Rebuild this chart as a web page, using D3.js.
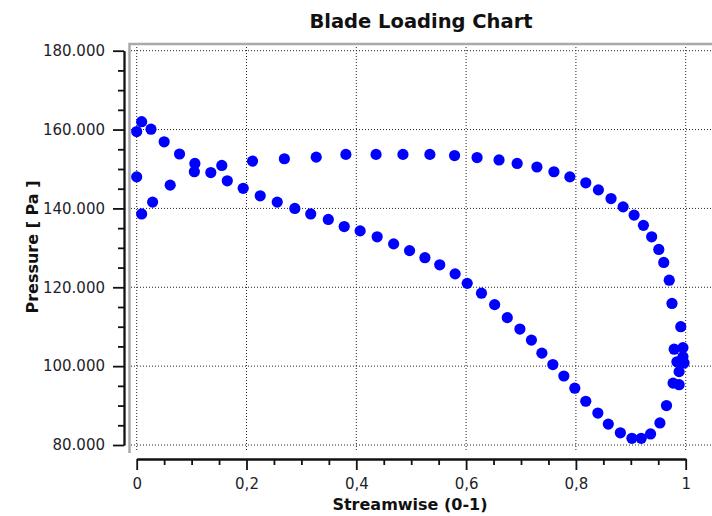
<!DOCTYPE html>
<meta charset="utf-8">
<script src="https://d3js.org/d3.v7.min.js"></script>
<style>
  body { margin: 0; background: #fff; }
  svg { display: block; font-family: "DejaVu Sans", Verdana, sans-serif; }
  .tick text { fill: #1e1e2a; }
</style>
<div id="chart"></div>
<script>

// suction side: starts at the leading edge peak and drops to the minimum near 0.9
var suctionX = [0, 0.009, 0.026, 0.050, 0.078, 0.106, 0.135, 0.165, 0.194, 0.225,
  0.256, 0.288, 0.317, 0.349, 0.378, 0.407, 0.438, 0.468, 0.497, 0.525,
  0.552, 0.580, 0.602, 0.628, 0.652, 0.675, 0.698, 0.719, 0.738, 0.758,
  0.778, 0.798, 0.818, 0.840, 0.859, 0.881, 0.902, 0.919, 0.936, 0.953,
  0.965, 0.977, 0.988, 0.988, 0.984, 0.979, 0.995];
var suctionP = [159500, 162000, 160100, 156900, 153800, 151400, 149100, 147000, 145100, 143200,
  141600, 140000, 138600, 137200, 135400, 134300, 132800, 131000, 129300, 127500,
  125700, 123400, 121000, 118500, 115600, 112300, 109400, 106600, 103300, 100400,
  97500, 94400, 91100, 88100, 85300, 83100, 81700, 81700, 82800, 85600,
  90000, 95700, 95300, 98600, 101100, 104300, 102400];

// pressure side: the flat upper branch
var pressureX = [0, 0.009, 0.029, 0.061, 0.105, 0.155, 0.211, 0.269, 0.327, 0.381,
  0.436, 0.485, 0.534, 0.579, 0.620, 0.660, 0.693, 0.729, 0.760, 0.789,
  0.818, 0.841, 0.864, 0.886, 0.906, 0.923, 0.938, 0.951, 0.960, 0.970,
  0.975, 0.991, 0.995, 0.997];
var pressureP = [148000, 138600, 141600, 145900, 149300, 150900, 152000, 152600, 153000, 153700,
  153700, 153700, 153700, 153400, 152900, 152300, 151400, 150500, 149300, 148000,
  146500, 144700, 142500, 140400, 138300, 135700, 132800, 129600, 126300, 121800,
  115900, 110000, 104700, 100800];

var xTicks = [0, 0.2, 0.4, 0.6, 0.8, 1];
var xMinor = [0.05, 0.1, 0.15, 0.25, 0.3, 0.35, 0.45, 0.5, 0.55, 0.65, 0.7, 0.75, 0.85, 0.9, 0.95];
var yTicks = [80000, 100000, 120000, 140000, 160000, 180000];
var yMinor = [85000, 90000, 95000, 105000, 110000, 115000, 125000, 130000, 135000,
  145000, 150000, 155000, 165000, 170000, 175000];

var width = 712, height = 516;

var locale = d3.formatLocale({decimal: ",", thousands: ".", grouping: [3], currency: ["", ""]});

var x = d3.scaleLinear().domain([0, 1]).range([136.7, 685.7]);
var y = d3.scaleLinear().domain([80000, 180000]).range([445, 50.7]);

var svg = d3.select("#chart")
  .append("svg")
    .attr("width", width)
    .attr("height", height);

// dotted grid
svg.append("g")
  .selectAll("line")
  .data(xTicks)
  .enter()
  .append("line")
    .attr("x1", function(d){ return x(d) })
    .attr("x2", function(d){ return x(d) })
    .attr("y1", 47)
    .attr("y2", 452)
    .attr("stroke", "#222")
    .attr("stroke-dasharray", "1,2");

svg.append("g")
  .selectAll("line")
  .data(yTicks)
  .enter()
  .append("line")
    .attr("x1", 131)
    .attr("x2", width)
    .attr("y1", function(d){ return y(d) })
    .attr("y2", function(d){ return y(d) })
    .attr("stroke", "#222")
    .attr("stroke-dasharray", "1,2");

// grey frame on the left and top
svg.append("path")
  .attr("d", "M129.5,453 L129.5,44 L712,44")
  .attr("fill", "none")
  .attr("stroke", "#a9a9a9")
  .attr("stroke-width", 2.5);

// axes
var xAxisG = svg.append("g").attr("transform", "translate(0,459)");
xAxisG.call(d3.axisBottom(x).tickValues(xMinor).tickSize(6).tickSizeOuter(0).tickFormat(""));
xAxisG.append("g").call(d3.axisBottom(x).tickValues(xTicks).tickSize(11).tickSizeOuter(0)
  .tickFormat(locale.format("~g")));

var yAxisG = svg.append("g").attr("transform", "translate(124,0)");
yAxisG.call(d3.axisLeft(y).tickValues(yMinor).tickSize(6).tickSizeOuter(0).tickFormat(""));
yAxisG.append("g").call(d3.axisLeft(y).tickValues(yTicks).tickSize(11).tickSizeOuter(0)
  .tickFormat(locale.format(",d")));

svg.selectAll(".domain, .tick line").attr("stroke", "#111").attr("stroke-width", 1.8);
svg.selectAll(".tick text")
  .style("font-family", "'DejaVu Sans', Verdana, sans-serif")
  .style("font-size", "15px");
xAxisG.selectAll(".tick text").attr("y", 19);
yAxisG.selectAll(".tick text").attr("x", -19);

// points
var points = suctionX.map(function(d, i){ return {x: d, p: suctionP[i]} })
  .concat(pressureX.map(function(d, i){ return {x: d, p: pressureP[i]} }));

svg.append("g")
  .selectAll("circle")
  .data(points)
  .enter()
  .append("circle")
    .attr("cx", function(d){ return x(d.x) })
    .attr("cy", function(d){ return y(d.p) })
    .attr("r", 5.6)
    .attr("fill", "#0000ff");

// titles
svg.append("text")
  .attr("x", 421)
  .attr("y", 28)
  .attr("text-anchor", "middle")
  .style("font-size", "19.5px")
  .style("font-weight", "bold")
  .style("fill", "#111")
  .text("Blade Loading Chart");

svg.append("text")
  .attr("x", 410)
  .attr("y", 510)
  .attr("text-anchor", "middle")
  .style("font-size", "16px")
  .style("font-weight", "bold")
  .style("fill", "#111")
  .text("Streamwise (0-1)");

svg.append("text")
  .attr("transform", "translate(38,247)rotate(-90)")
  .attr("text-anchor", "middle")
  .style("font-size", "16px")
  .style("font-weight", "bold")
  .style("fill", "#111")
  .text("Pressure [ Pa ]");

</script>
